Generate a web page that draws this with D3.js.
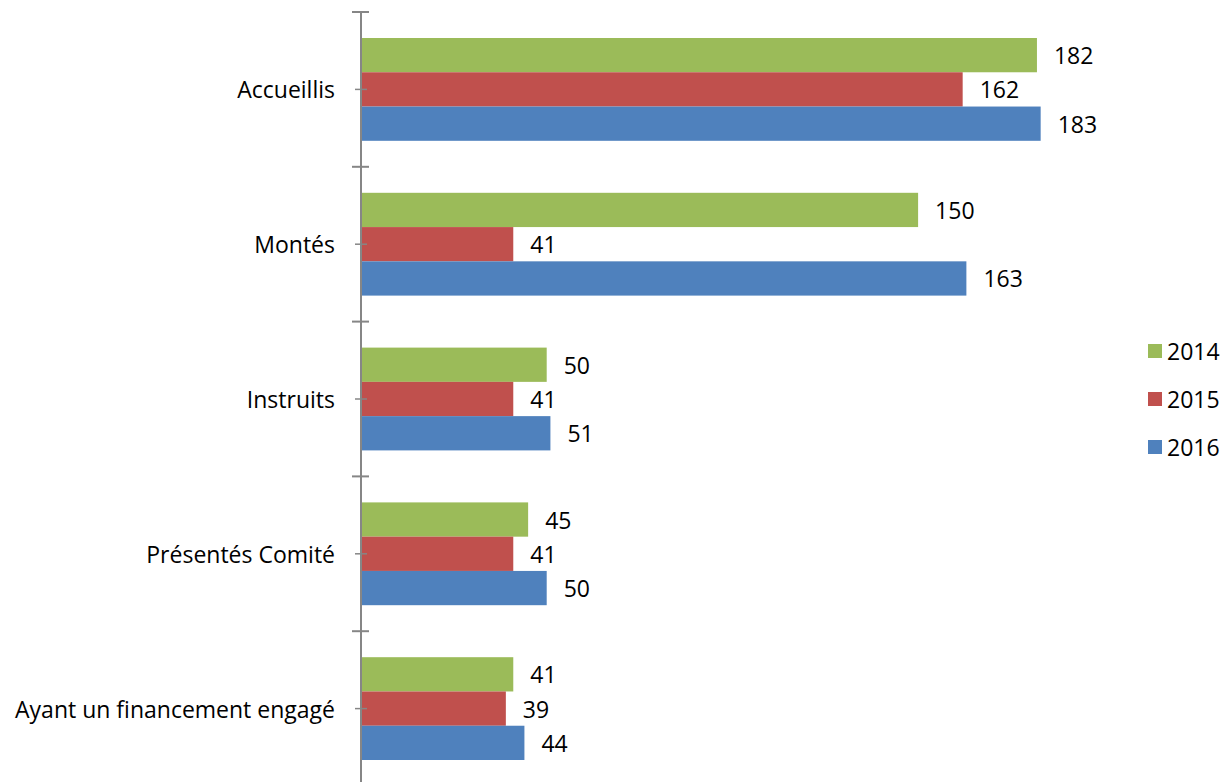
<!DOCTYPE html>
<html>
<head>
<meta charset="utf-8">
<script src="https://cdn.jsdelivr.net/npm/d3@7"></script>
<style>
  body { margin: 0; background: #fff; }
  svg { display: block; font-family: "Open Sans", sans-serif; }
</style>
</head>
<body>
<svg width="1225" height="782"></svg>
<script>
// categories, series, values
const categories = ["Accueillis", "Montés", "Instruits", "Présentés Comité", "Ayant un financement engagé"];
const years = ["2014", "2015", "2016"];
const values2014 = [182, 150, 50, 45, 41];
const values2015 = [162, 41, 41, 41, 39];
const values2016 = [183, 163, 51, 50, 44];
const colors = ["#9BBB59", "#C0504D", "#4F81BD"];

const seriesValues = [values2014, values2015, values2016];

const svg = d3.select("svg");
const axisX = 361;
const fontSize = "23px";

// scales
const y = d3.scaleBand()
    .domain(categories)
    .range([12, 786]);

const ySub = d3.scaleBand()
    .domain(years)
    .range([26, y.bandwidth() - 26]);

const x = d3.scaleLinear()
    .domain([0, 200])
    .range([axisX, axisX + 200 * 3.714]);

// bars
const groups = svg.selectAll(".cat")
    .data(categories)
    .enter().append("g")
    .attr("class", "cat")
    .attr("transform", d => `translate(0,${y(d)})`);

groups.each(function(cat, ci) {
    const g = d3.select(this);
    years.forEach((yr, si) => {
        const v = seriesValues[si][ci];
        g.append("rect")
            .attr("x", x(0))
            .attr("y", ySub(yr))
            .attr("width", x(v) - x(0))
            .attr("height", ySub.bandwidth())
            .attr("fill", colors[si]);
        g.append("text")
            .attr("x", x(v) + 17)
            .attr("y", ySub(yr) + ySub.bandwidth() / 2)
            .attr("dominant-baseline", "central")
            .style("font-size", fontSize)
            .style("fill", "#000")
            .text(v);
    });
});

// y axis (custom, excel look)
const axis = svg.append("g").attr("class", "y-axis");
axis.append("line")
    .attr("x1", axisX).attr("x2", axisX)
    .attr("y1", 12).attr("y2", 782)
    .attr("stroke", "#868686").attr("stroke-width", 2);

const boundaries = categories.map(c => y(c)).concat([y.range()[1]]);
axis.selectAll(".tick-major")
    .data(boundaries)
    .enter().append("line")
    .attr("x1", axisX - 9).attr("x2", axisX + 8)
    .attr("y1", d => d).attr("y2", d => d)
    .attr("stroke", "#868686").attr("stroke-width", 2);

axis.selectAll(".tick-minor")
    .data(categories)
    .enter().append("line")
    .attr("x1", axisX - 6).attr("x2", axisX + 6)
    .attr("y1", d => y(d) + y.bandwidth() / 2)
    .attr("y2", d => y(d) + y.bandwidth() / 2)
    .attr("stroke", "#868686").attr("stroke-width", 1.5);

axis.selectAll(".cat-label")
    .data(categories)
    .enter().append("text")
    .attr("x", 335)
    .attr("y", d => y(d) + y.bandwidth() / 2)
    .attr("text-anchor", "end")
    .attr("dominant-baseline", "central")
    .style("font-size", fontSize)
    .style("fill", "#000")
    .text(d => d);

// legend
const legend = svg.append("g").attr("id", "legend");
years.forEach((yr, i) => {
    const cy = 351 + i * 48;
    legend.append("rect")
        .attr("x", 1148).attr("y", cy - 7)
        .attr("width", 14).attr("height", 14)
        .attr("fill", colors[i]);
    legend.append("text")
        .attr("x", 1167).attr("y", cy)
        .attr("dominant-baseline", "central")
        .style("font-size", fontSize)
        .style("fill", "#000")
        .text(yr);
});
</script>
</body>
</html>
